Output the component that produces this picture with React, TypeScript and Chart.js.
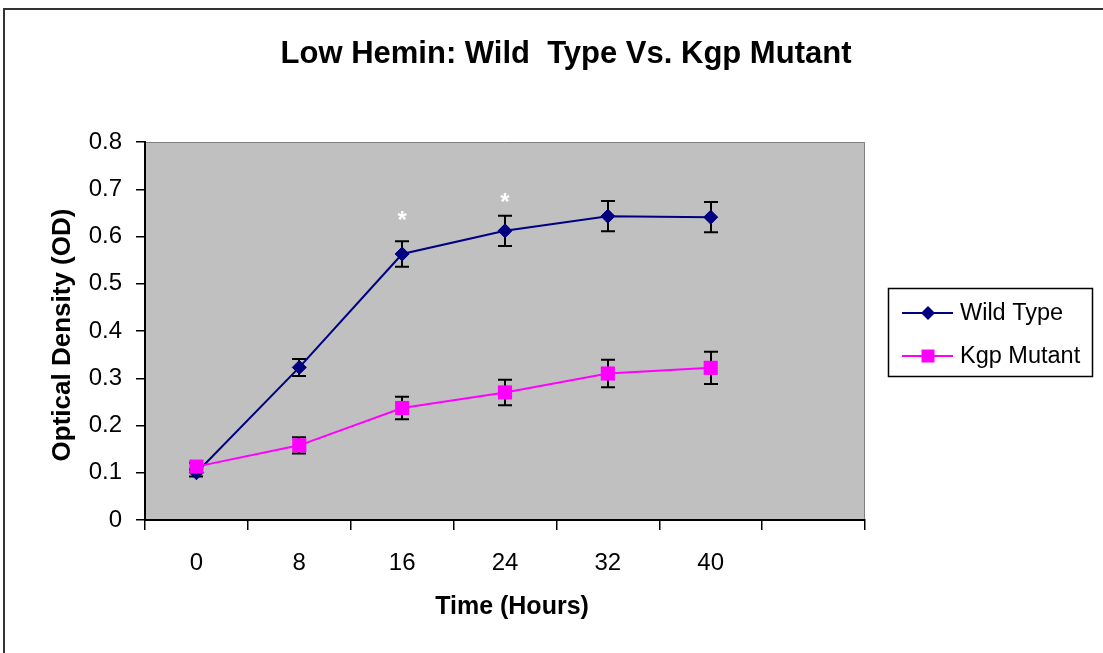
import React, { useEffect, useRef } from 'react';
import { Chart, registerables } from 'chart.js';

Chart.register(...registerables);

// ---- data ----
const timeLabels = ['0', '8', '16', '24', '32', '40', ''];
const wildType = [0.1, 0.323, 0.563, 0.612, 0.643, 0.641];
const wildTypeErr = [0.008, 0.018, 0.027, 0.032, 0.032, 0.032];
const kgpMutant = [0.113, 0.158, 0.237, 0.27, 0.31, 0.322];
const kgpErr = [0.008, 0.017, 0.024, 0.027, 0.029, 0.034];
const asteriskCats = ['16', '24'];
const asteriskVals = [0.645, 0.683];
const seriesNames = ['Wild Type', 'Kgp Mutant'];
const titleText = 'Low Hemin: Wild  Type Vs. Kgp Mutant';
const xTitle = 'Time (Hours)';
const yTitle = 'Optical Density (OD)';

const NAVY = '#000080';
const MAGENTA = '#FF00FF';
const FONT = '"Liberation Sans", Arial, sans-serif';

const plotBg = {
  id: 'plotBg',
  beforeDraw(chart: any) {
    const { ctx, chartArea: a } = chart;
    ctx.save();
    ctx.fillStyle = '#C0C0C0';
    ctx.fillRect(a.left, a.top, a.right - a.left, a.bottom - a.top);
    ctx.strokeStyle = '#808080';
    ctx.lineWidth = 1;
    ctx.beginPath();
    ctx.moveTo(a.left, a.top + 0.5);
    ctx.lineTo(a.right - 0.5, a.top + 0.5);
    ctx.lineTo(a.right - 0.5, a.bottom);
    ctx.stroke();
    ctx.restore();
  },
};

const errorBars = {
  id: 'errorBars',
  beforeDatasetsDraw(chart: any) {
    const { ctx, scales } = chart;
    const x = scales.x;
    const y = scales.y;
    ctx.save();
    ctx.strokeStyle = '#000';
    ctx.lineWidth = 2;
    const sets = [
      [wildType, wildTypeErr],
      [kgpMutant, kgpErr],
    ];
    sets.forEach(([vals, errs]) => {
      vals.forEach((v: number, i: number) => {
        const px = Math.round(x.getPixelForValue(i));
        const top = y.getPixelForValue(v + errs[i]);
        const bot = y.getPixelForValue(v - errs[i]);
        ctx.beginPath();
        ctx.moveTo(px, top);
        ctx.lineTo(px, bot);
        ctx.moveTo(px - 7, top);
        ctx.lineTo(px + 7, top);
        ctx.moveTo(px - 7, bot);
        ctx.lineTo(px + 7, bot);
        ctx.stroke();
      });
    });
    ctx.restore();
  },
};

const texts = {
  id: 'texts',
  afterDraw(chart: any) {
    const { ctx, scales } = chart;
    ctx.save();
    // title
    ctx.fillStyle = '#000';
    ctx.font = `bold 31px ${FONT}`;
    ctx.textAlign = 'center';
    ctx.textBaseline = 'alphabetic';
    ctx.fillText(titleText, 566, 63);
    // x title
    ctx.font = `bold 25px ${FONT}`;
    ctx.fillText(xTitle, 512, 614);
    // y title
    ctx.save();
    ctx.translate(70, 335);
    ctx.rotate(-Math.PI / 2);
    ctx.font = `bold 26px ${FONT}`;
    ctx.fillText(yTitle, 0, 0);
    ctx.restore();

    // asterisks
    ctx.fillStyle = '#FFFFFF';
    ctx.font = `bold 24px ${FONT}`;
    asteriskCats.forEach((c, i) => {
      const px = scales.x.getPixelForValue(timeLabels.indexOf(c));
      const py = scales.y.getPixelForValue(asteriskVals[i]);
      ctx.fillText('*', px, py + 13);
    });

    // legend
    ctx.fillStyle = '#FFFFFF';
    ctx.fillRect(888, 288, 205, 89);
    ctx.strokeStyle = '#000';
    ctx.lineWidth = 1.5;
    ctx.strokeRect(888.5, 288.5, 204, 88);
    const rows = [313, 356];
    const colors = [NAVY, MAGENTA];
    rows.forEach((ry, i) => {
      ctx.strokeStyle = colors[i];
      ctx.lineWidth = 2;
      ctx.beginPath();
      ctx.moveTo(902, ry);
      ctx.lineTo(953, ry);
      ctx.stroke();
      ctx.fillStyle = colors[i];
      if (i === 0) {
        ctx.beginPath();
        ctx.moveTo(928, ry - 7);
        ctx.lineTo(935, ry);
        ctx.lineTo(928, ry + 7);
        ctx.lineTo(921, ry);
        ctx.closePath();
        ctx.fill();
      } else {
        ctx.fillRect(921.5, ry - 6.5, 13, 13);
      }
      ctx.fillStyle = '#000';
      ctx.font = `23.5px ${FONT}`;
      ctx.textAlign = 'left';
      ctx.textBaseline = 'middle';
      ctx.fillText(seriesNames[i], 960, ry + 1);
    });
    ctx.restore();
  },
};

export default function App() {
  const ref = useRef<HTMLCanvasElement>(null);
  useEffect(() => {
    const canvas = ref.current;
    if (!canvas) return;
    const chart = new Chart(canvas, {
      type: 'line',
      data: {
        labels: timeLabels,
        datasets: [
          {
            label: seriesNames[0],
            data: wildType,
            borderColor: NAVY,
            backgroundColor: NAVY,
            borderWidth: 2,
            pointStyle: 'rectRot',
            pointRadius: 7,
            pointBorderWidth: 1,
            pointBorderColor: NAVY,
            pointBackgroundColor: NAVY,
            tension: 0,
            order: 1,
          },
          {
            label: seriesNames[1],
            data: kgpMutant,
            borderColor: MAGENTA,
            backgroundColor: MAGENTA,
            borderWidth: 2,
            pointStyle: 'rect',
            pointRadius: 10,
            pointBorderWidth: 0,
            pointBackgroundColor: MAGENTA,
            tension: 0,
            order: 0,
          },
        ],
      },
      options: {
        responsive: false,
        animation: false,
        devicePixelRatio: 1,
        layout: { padding: { top: 142, right: 238, left: 0, bottom: 0 } },
        plugins: {
          legend: { display: false },
          tooltip: { enabled: false },
          title: { display: false },
        },
        scales: {
          x: {
            type: 'category',
            offset: true,
            grid: {
              display: true,
              offset: true,
              drawOnChartArea: false,
              drawTicks: true,
              tickLength: 10,
              color: '#000',
              lineWidth: 1.5,
            },
            border: { display: true, color: '#000', width: 2 },
            ticks: {
              autoSkip: false,
              maxRotation: 0,
              color: '#000',
              font: { family: FONT, size: 24 },
              padding: 19,
            },
            afterFit(scale: any) {
              scale.height = 133;
            },
          },
          y: {
            min: 0,
            max: 0.8,
            grid: {
              display: true,
              drawOnChartArea: false,
              drawTicks: true,
              tickLength: 9,
              color: '#000',
              lineWidth: 1.5,
            },
            border: { display: true, color: '#000', width: 2 },
            ticks: {
              stepSize: 0.1,
              color: '#000',
              font: { family: FONT, size: 24 },
              padding: 14,
              callback: (v: any) => String(Number(Number(v).toFixed(1))),
            },
            afterFit(scale: any) {
              scale.width = 145;
            },
          },
        },
      },
      plugins: [plotBg, errorBars, texts],
    });
    return () => chart.destroy();
  }, []);

  return (
    <div style={{ position: 'fixed', left: 0, top: 0, width: 1103, height: 653, background: '#fff' }}>
      <div
        style={{
          position: 'absolute',
          left: 3,
          top: 8,
          width: 1200,
          height: 800,
          borderLeft: '2px solid #333',
          borderTop: '2px solid #333',
        }}
      />
      <canvas ref={ref} width={1103} height={653} style={{ position: 'absolute', left: 0, top: 0 }} />
    </div>
  );
}
